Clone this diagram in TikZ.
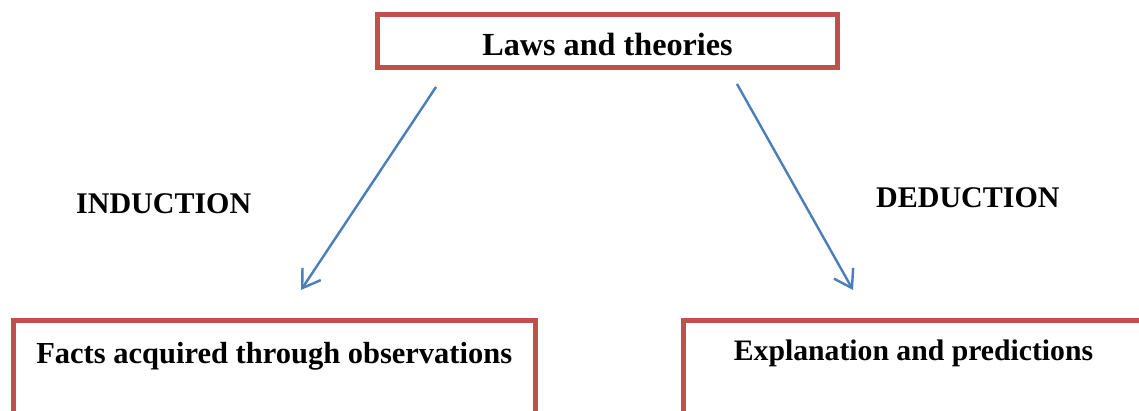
\documentclass[tikz,border=0pt]{standalone}
\usepackage{fontspec}
\setmainfont{Liberation Serif}
\usetikzlibrary{arrows.meta}
\definecolor{boxred}{HTML}{C0504D}
\definecolor{arrblue}{HTML}{4A7EBB}
\begin{document}
\begin{tikzpicture}[x=1pt,y=-1pt,
  box/.style={draw=boxred,line width=5pt,fill=white,inner sep=0pt,
    font=\bfseries\fontsize{30.5}{36}\selectfont},
  lbl/.style={inner sep=0pt,font=\bfseries\fontsize{30}{36}\selectfont},
  arr/.style={draw=arrblue,line width=2.4pt,-{Straight Barb[length=17pt,width=22pt,line width=2.4pt]}}]
\clip (0,0) rectangle (1139,411);
\fill[white] (0,0) rectangle (1139,411);
\node[box,minimum width=460,minimum height=53,text height=30pt,text depth=0pt,
  font=\bfseries\fontsize{32.2}{38}\selectfont] (laws) at (607.5,41) {Laws and theories};
\node[box,minimum width=521.5,minimum height=119.5,text height=0pt,text depth=34.5pt] (facts) at (274.25,380.25) {Facts acquired through observations};
\node[box,minimum width=460,minimum height=119.5,text height=0pt,text depth=40.5pt,
  font=\bfseries\fontsize{29.7}{36}\selectfont] (expl) at (913.5,380.25) {Explanation and predictions};
\node[lbl,anchor=base west] (ind) at (76,214) {INDUCTION};
\node[lbl,anchor=base west] (ded) at (876,208) {DEDUCTION};
\coordinate (a1s) at (436,87);
\coordinate (a1e) at (301,290);
\coordinate (a2s) at (737,84);
\coordinate (a2e) at (853,290);
\draw[arr] (a1s) -- (a1e);
\draw[arr] (a2s) -- (a2e);
\end{tikzpicture}
\end{document}
